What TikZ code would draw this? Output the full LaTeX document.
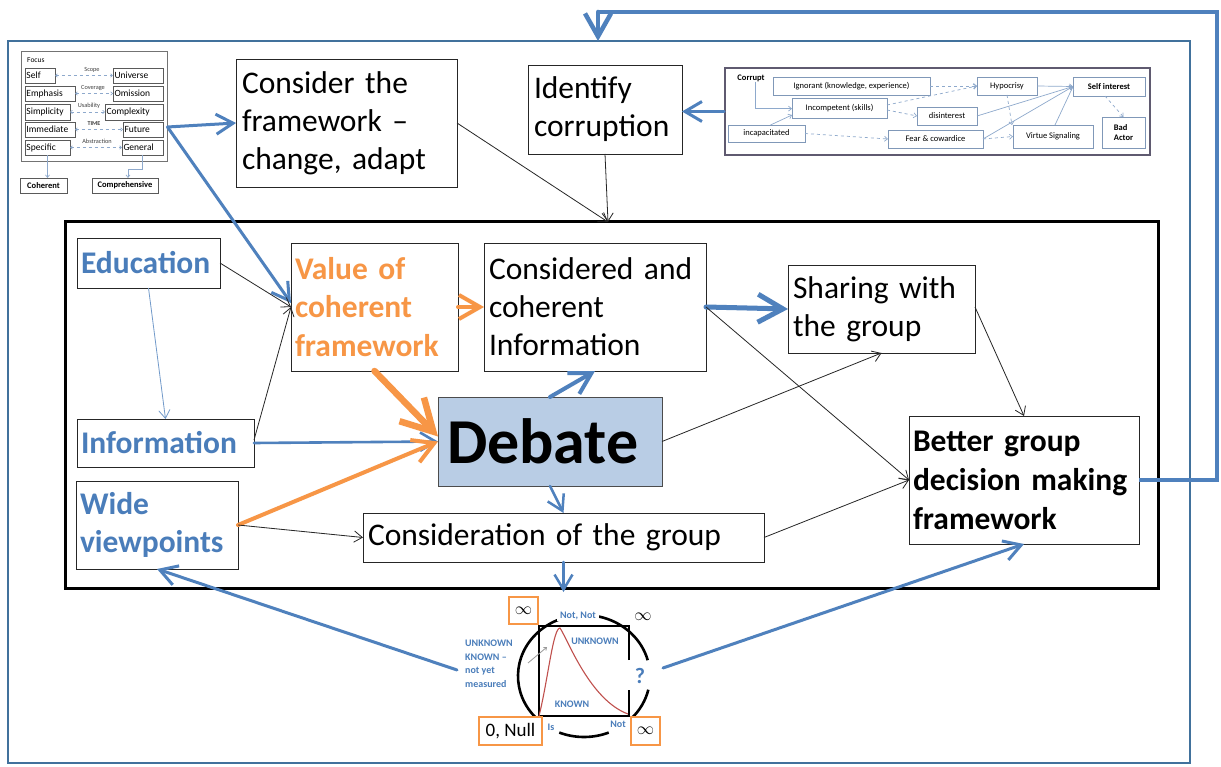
\documentclass[tikz,border=0pt]{standalone}
\usepackage{fontspec}
\setmainfont{Carlito}
\usetikzlibrary{arrows.meta,calc}
\definecolor{pblue}{HTML}{4F81BD}
\definecolor{tblue}{HTML}{4A7DBA}
\definecolor{fblue}{HTML}{41719C}
\definecolor{porange}{HTML}{F79646}
\definecolor{dfill}{HTML}{B9CDE5}
\definecolor{pred}{HTML}{C0504D}
\definecolor{mini}{HTML}{8EA9CC}
\definecolor{minib}{HTML}{5A5A5A}
\definecolor{cframe}{HTML}{5F5A70}
\tikzset{
  box/.style={draw=black!85, line width=0.9pt, fill=white, inner ysep=0pt, inner xsep=6pt, outer sep=0pt, align=left},
  big/.style={font=\fontsize{31.5}{38}\selectfont},
  bigb/.style={font=\fontsize{31.5}{38.5}\selectfont\bfseries},
  tip/.style={-{Straight Barb[length=5pt 4, width=8pt 4]}},
  thin/.style={tip, draw=black!85, line width=0.8pt},
  barrow/.style={tip, draw=pblue, line cap=round},
  oarrow/.style={tip, draw=porange, line cap=round},
  mbox/.style={draw=minib, line width=0.6pt, fill=white, inner xsep=1.5pt, inner ysep=0pt, outer sep=0pt, anchor=center, font=\fontsize{9.5}{10}\selectfont},
  mlab/.style={font=\fontsize{6.3}{7}\selectfont, text=black!75, inner sep=0pt},
  marr/.style={draw=mini, line width=0.6pt, dashed, {Straight Barb[length=2pt,width=3.5pt]}-{Straight Barb[length=2pt,width=3.5pt]}},
  cbox/.style={draw=mini!90!black, line width=0.6pt, fill=white, inner sep=0pt, outer sep=0pt, align=left, font=\fontsize{8.5}{9.5}\selectfont},
  carr/.style={draw=mini, line width=0.7pt, -{Straight Barb[length=3pt,width=5pt]}},
  obox/.style={draw=porange, line width=2.2pt, fill=white, inner sep=0pt},
  clab/.style={text=tblue, font=\fontsize{10}{13}\selectfont\bfseries, inner sep=0pt, align=left},
}
\begin{document}
\begin{tikzpicture}[x=1pt,y=-1pt]
\useasboundingbox[fill=white] (0,0) rectangle (1221,767);

% outer blue frame and inner black frame
\node[draw=fblue, line width=2.5pt, minimum width=1182pt, minimum height=722pt, inner sep=0] (outer) at (599,402) {};
\node[draw=black, line width=3pt, minimum width=1093pt, minimum height=366pt, inner sep=0] (inner) at (611.5,405) {};

% ---------- top-left mini diagram ----------
\node[draw=black!55, line width=1pt, fill=white, minimum width=146pt, minimum height=110pt, inner sep=0] (focusframe) at (94,107) {};
\node[anchor=west, inner sep=0, font=\fontsize{7.5}{8}\selectfont] (focus) at (27,60) {Focus};
\node[mbox, minimum width=30pt, minimum height=15pt, text width=27pt] (self) at (40,75.5) {Self};
\node[mbox, minimum width=50pt, minimum height=15pt, text width=47pt] (universe) at (138,75.5) {Universe};
\node[mbox, minimum width=50pt, minimum height=15pt, text width=47pt] (emph) at (50,93.5) {Emphasis};
\node[mbox, minimum width=50pt, minimum height=15pt, text width=47pt] (omis) at (138,93.5) {Omission};
\node[mbox, minimum width=45pt, minimum height=16pt, text width=42pt] (simp) at (47.5,112) {Simplicity};
\node[mbox, minimum width=58pt, minimum height=16pt, text width=55pt] (comp) at (134,112) {Complexity};
\node[mbox, minimum width=50pt, minimum height=15pt, text width=47pt] (imm) at (50,129.5) {Immediate};
\node[mbox, minimum width=40pt, minimum height=15pt, text width=37pt] (fut) at (143,129.5) {Future};
\node[mbox, minimum width=45pt, minimum height=15pt, text width=42pt] (spec) at (47.5,147.5) {Specific};
\node[mbox, minimum width=41pt, minimum height=15pt, text width=38pt] (gen) at (142.5,147.5) {General};
\draw[marr] (self.east) -- (universe.west);
\draw[marr] (emph.east) -- (omis.west);
\draw[marr] (simp.east) -- (comp.west);
\draw[marr] (imm.east) -- (fut.west);
\draw[marr] (spec.east) -- (gen.west);
\node[mlab] (l1) at (92,70) {Scope};
\node[mlab] (l2) at (93,88) {Coverage};
\node[mlab] (l3) at (89,106) {Usability};
\node[mlab, font=\fontsize{6}{7}\selectfont\bfseries] (l4) at (94,123.5) {TIME};
\node[mlab] (l5) at (97,141) {Abstraction};
\node[mbox, font=\fontsize{8.5}{9}\selectfont\bfseries, minimum width=47pt, minimum height=15pt, align=center] (coherent) at (43.5,185.5) {Coherent};
\node[mbox, font=\fontsize{8.5}{9}\selectfont\bfseries, minimum width=66pt, minimum height=15pt, align=center] (comprehensive) at (125,185.5) {Comprehensive};
\draw[draw=mini, line width=0.7pt, -{Straight Barb[length=2.5pt,width=4pt]}] (spec.south) -- (spec.south |- coherent.north);
\draw[draw=mini, line width=0.7pt, -{Straight Barb[length=2.5pt,width=4pt]}] (gen.south) -- ++(0,14) -| ($(comprehensive.north)+(3,0)$);

% ---------- top-right mini diagram ----------
\node[draw=cframe, line width=1.6pt, fill=white, minimum width=425pt, minimum height=87pt, inner sep=0] (cframe) at (937.5,111.5) {};
\node[inner sep=0, font=\fontsize{8.5}{9.5}\selectfont\bfseries] (corrupt) at (751,78) {Corrupt};
\node[cbox, minimum width=157pt, minimum height=18pt, align=center] (ignorant) at (851.5,86) {Ignorant (knowledge, experience)};
\node[cbox, minimum width=95pt, minimum height=20pt, align=center] (incomp) at (839.5,108) {Incompetent (skills)};
\node[cbox, minimum width=60pt, minimum height=18pt, align=center] (disint) at (947,116) {disinterest};
\node[cbox, minimum width=77pt, minimum height=17pt, align=center] (incap) at (766.5,133.5) {incapacitated};
\node[cbox, minimum width=95pt, minimum height=18pt, align=center] (fear) at (935.5,139) {Fear \& cowardice};
\node[cbox, minimum width=60pt, minimum height=18pt, align=center] (hypo) at (1007,86) {Hypocrisy};
\node[cbox, minimum width=72pt, minimum height=19pt, align=center, font=\fontsize{8.5}{9.5}\selectfont\bfseries] (selfint) at (1109,86.5) {Self interest};
\node[cbox, minimum width=80pt, minimum height=23pt, align=center] (virtue) at (1053,136.5) {Virtue Signaling};
\node[cbox, minimum width=43pt, minimum height=31pt, align=left, font=\fontsize{8.5}{10}\selectfont\bfseries] (bad) at (1123.5,132.5) {Bad\\Actor};
\draw[carr, -] (corrupt.south) ++(4,0) -- ++(0,27) coordinate (cturn);
\draw[carr] (cturn) -- (cturn -| incomp.west);
\draw[carr] ($(incap.north)+(4,0)$) -- ($(incomp.south west)+(0,-3)$);
\draw[carr, dashed] (ignorant.east) -- (hypo.west);
\draw[carr, dashed] ($(incomp.east)+(0,-3)$) -- (hypo.west);
\draw[carr, dashed] ($(incomp.east)+(0,2)$) -- (disint.west);
\draw[carr, dashed] (incap.east) -- (fear.west);
\draw[carr] (hypo.east) -- (selfint.west);
\draw[carr] (disint.east) -- (selfint.west);
\draw[carr] (fear.east) -- (selfint.west);
\draw[carr] ($(virtue.north)+(2,0)$) -- (selfint.west);
\draw[carr, dashed] (fear.east) -- (virtue.west);
\draw[carr, dashed] (hypo.south) -- ($(virtue.north west)+(-1,0)$);
\draw[carr, dashed] ($(selfint.south)+(-4,0)$) -- (bad.north);

% ---------- main boxes ----------
\node[box, big, minimum width=221pt, minimum height=128pt, text width=209pt] (consider) at (346.5,123) {Consider the\\framework --\\change, adapt};
\node[box, big, minimum width=154pt, minimum height=89pt, text width=142pt] (identify) at (605,109.5) {Identify\\corruption};
\node[box, bigb, text=tblue, minimum width=143pt, minimum height=50pt, text width=135pt, inner xsep=4pt] (edu) at (148.5,263) {Education};
\node[box, bigb, text=porange, minimum width=167pt, minimum height=128pt, text width=159pt, inner xsep=4pt] (value) at (374.5,307) {Value of\\coherent\\framework};
\node[box, big, minimum width=222pt, minimum height=128pt, text width=212pt, inner xsep=5pt] (considered) at (595,307) {Considered and\\coherent\\Information};
\node[box, big, minimum width=187pt, minimum height=88pt, text width=177pt, inner xsep=5pt] (sharing) at (881.5,309) {Sharing with\\the group};
\node[box, bigb, text=tblue, minimum width=177pt, minimum height=48pt, text width=169pt, inner xsep=4pt] (info) at (165.5,443) {Information};
\node[box, bigb, text=tblue, minimum width=162pt, minimum height=88pt, text width=154pt, inner xsep=4pt] (wide) at (157,525) {Wide\\viewpoints};
\node[box, fill=dfill, draw=black!70, font=\fontsize{64}{70}\selectfont\bfseries, minimum width=224pt, minimum height=89pt, text width=206pt, inner xsep=9pt] (debate) at (550,441.5) {Debate};
\node[box, big, minimum width=401pt, minimum height=49pt, text width=391pt, inner xsep=5pt] (consgroup) at (563.5,537.5) {Consideration of the group};
\node[box, bigb, font=\fontsize{31.5}{39}\selectfont\bfseries, minimum width=230pt, minimum height=128pt, text width=222pt, inner xsep=4pt] (better) at (1024,480) {Better group\\decision making\\framework};

% ---------- circle diagram ----------
\coordinate (cc) at (584,676);
\draw[line width=2.6pt] (cc) ++(136:66 and 61) arc[start angle=136,end angle=345,x radius=66,y radius=61];
\draw[line width=2.6pt] (cc) ++(13:66 and 61) arc[start angle=13,end angle=44,x radius=66,y radius=61];
\draw[line width=2.6pt] (cc) ++(68:66 and 61) arc[start angle=68,end angle=112,x radius=66,y radius=61];
\draw[line width=2.6pt] (629,660) -- (629,626) -- (539,626) -- (539,716) -- (629,716) -- (629,690);
\draw[pred, line width=1.1pt] (539,716) .. controls (548,680) and (553,628) .. (560,628) .. controls (568,640) and (590,700) .. (628,714);
\draw[black!40, line width=0.8pt, -{Straight Barb[length=2.5pt,width=4pt]}] (528,663) -- (547,647);
\node[clab, fill=white, inner xsep=3pt, inner ysep=1pt] (notnot) at (578,616) {Not, Not};
\node[clab] (unk) at (595,641) {UNKNOWN};
\node[clab] (kn) at (572,704) {KNOWN};
\node[clab, anchor=west, font=\fontsize{10}{13.5}\selectfont\bfseries] (ukn) at (465,664) {UNKNOWN\\KNOWN --\\not yet\\measured};
\node[clab] (is) at (551,727) {Is};
\node[clab] (nt) at (618,724) {Not};
\node[text=tblue, font=\fontsize{22}{22}\selectfont\bfseries, inner sep=0] (q) at (640,676) {?};
\node[inner sep=0, font=\fontsize{16}{16}\selectfont] (inf0) at (643,617) {$\infty$};
\node[obox, minimum width=29pt, minimum height=27pt] (inf1) at (523.5,610.5) {\fontsize{16}{16}\selectfont$\infty$};
\node[obox, minimum width=63pt, minimum height=28pt, font=\fontsize{19}{19}\selectfont] (null) at (510.5,731) {0, Null};
\node[obox, minimum width=29pt, minimum height=28pt] (inf2) at (645.5,731) {\fontsize{16}{16}\selectfont$\infty$};
\coordinate (ctop) at (563.5,592);
\coordinate (cl) at (457,670);
\coordinate (cr) at (663,668);

% ---------- connectors ----------
\coordinate (ml) at ($(focusframe.east)+(0,20)$);
\coordinate (tgt) at (608,222);
\draw[barrow, line width=3pt] (ml) -- (consider.west);
\draw[barrow, line width=3pt] (ml) -- ($(value.west)+(0,-4)$);
\draw[barrow, line width=3pt] (cframe.west) -- (cframe.west -| identify.east);
\draw[thin] (consider.east) -- (tgt);
\draw[thin] (identify.south) -- (tgt);
\draw[thin] (edu.east) -- (value.west);
\draw[tip, draw=pblue!80, line width=0.8pt] (edu.south) -- (info.north);
\draw[thin] ($(info.east)+(0,-3)$) -- (value.west);
\draw[barrow, line width=2.6pt] (info.east) -- (debate.west);
\draw[oarrow, line width=4pt] (wide.east) -- (debate.west);
\draw[oarrow, line width=6.5pt] (value.south) -- ($(debate.west)+(0,-5)$);
\draw[thin] (wide.east) -- (consgroup.west);
\draw[oarrow, line width=4pt] (value.east) -- (considered.west);
\draw[barrow, line width=4pt] (debate.north) -- (considered.south);
\draw[barrow, line width=2.5pt] (debate.south) -- (consgroup.north);
\draw[barrow, line width=5pt] (considered.east) -- (sharing.west);
\draw[thin] (considered.east) -- (better.west);
\draw[thin] (debate.east) -- (sharing.south);
\draw[thin] ($(sharing.east)+(0,-2)$) -- (better.north);
\draw[thin] (consgroup.east) -- (better.west);
\draw[barrow, line width=2.5pt] (consgroup.south) -- (ctop);
\draw[barrow, line width=3pt] (cl) -- (wide.south);
\draw[barrow, line width=3pt] (cr) -- (better.south);
\coordinate (fb1) at (1217,480);
\coordinate (fb2) at (1217,12);
\coordinate (fb3) at (598,12);
\coordinate (fb4) at (598,41);
\draw[pblue, line width=4.5pt] (better.east) -- (fb1) -- (fb2) -- (fb3);
\draw[barrow, line width=4.5pt] (fb3) -- (fb4);
\end{tikzpicture}
\end{document}
